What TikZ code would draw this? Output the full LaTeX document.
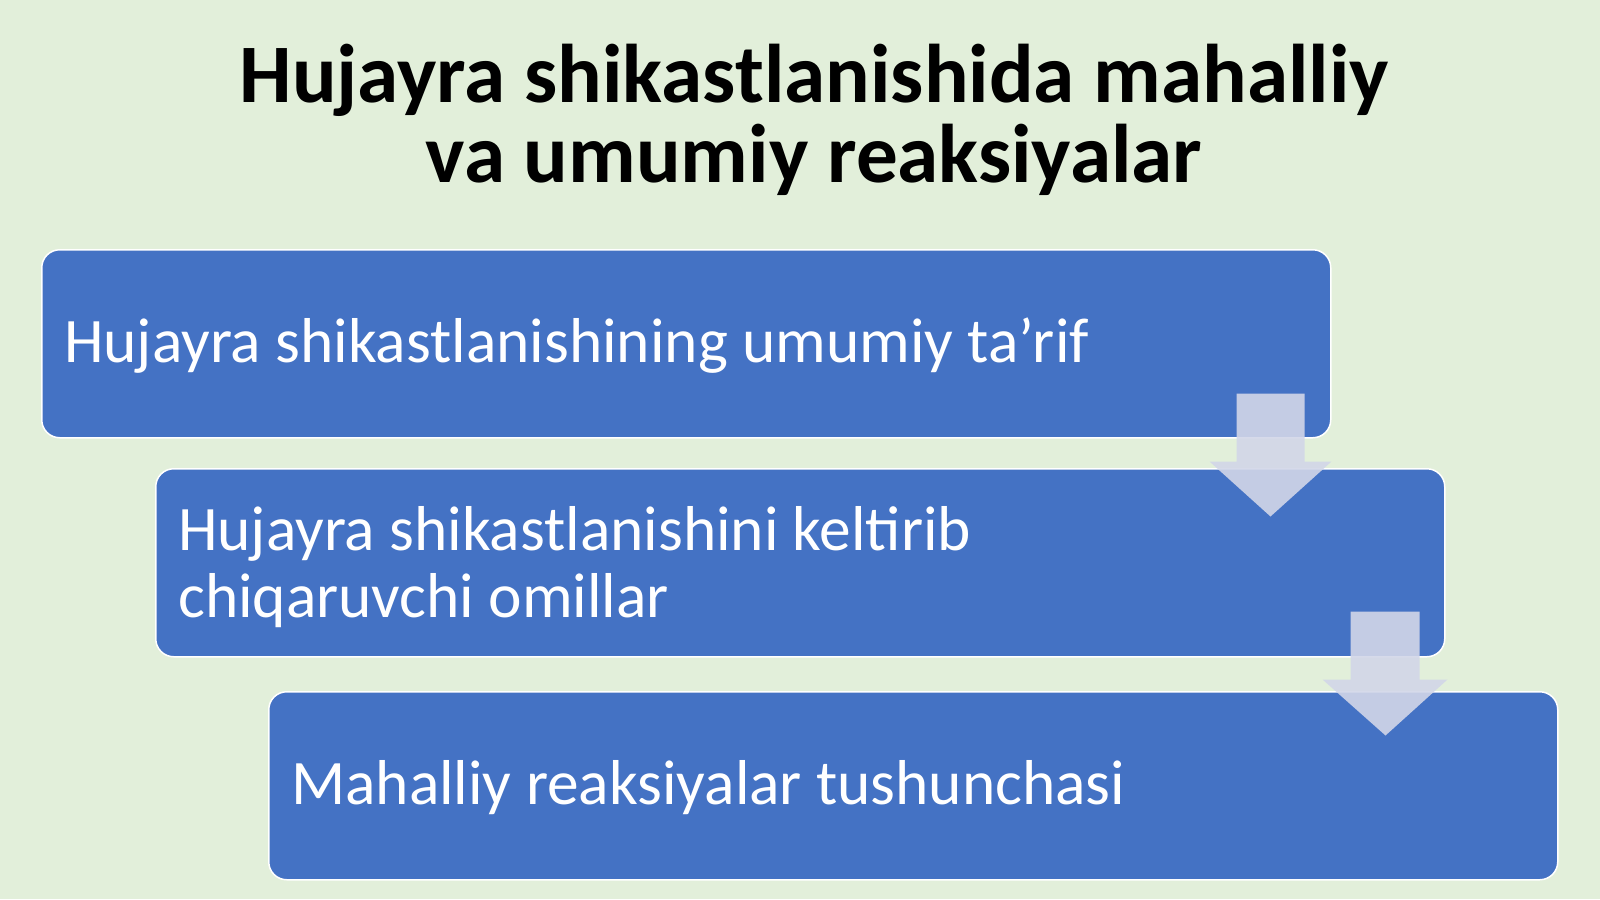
\documentclass[tikz,border=0pt]{standalone}
\usepackage{fontspec}
\setmainfont{Carlito}
\definecolor{bg}{HTML}{E2EFDA}
\definecolor{boxblue}{HTML}{4472C4}
\definecolor{arrowc}{RGB}{210,214,232}
\begin{document}
\begin{tikzpicture}[x=1pt,y=-1pt,
  stepbox/.style={draw=white, line width=1.5pt, fill=boxblue, rounded corners=18pt,
    minimum width=1289pt, minimum height=188pt, anchor=north west, inner sep=0pt},
  boxtext/.style={anchor=base west, text=white, font=\fontsize{63.4}{67}\selectfont, inner sep=0pt},
  titletext/.style={anchor=base, text=black, font=\bfseries\fontsize{83.2}{80}\selectfont, inner sep=0pt},
  blockarrow/.style={fill=arrowc, fill opacity=0.9, draw=none}]
\fill[bg] (0,0) rectangle (1600,899);
\useasboundingbox (0,0) rectangle (1600,899);
\node[titletext] (t1) at (814,102) {Hujayra shikastlanishida mahalliy};
\node[titletext] (t2) at (814,182) {va umumiy reaksiyalar};
\node[stepbox] (b1) at (41,249) {};
\node[stepbox] (b2) at (155,468) {};
\node[stepbox] (b3) at (268,691) {};
\node[boxtext] (l1) at ([xshift=23pt,yshift=-113pt]b1.north west) {Hujayra shikastlanishining umumiy ta’rif};
\node[boxtext] (l2a) at ([xshift=23pt,yshift=-82pt]b2.north west) {Hujayra shikastlanishini keltirib};
\node[boxtext] (l2b) at ([xshift=23pt,yshift=-149pt]b2.north west) {chiqaruvchi omillar};
\node[boxtext] (l3) at ([xshift=23pt,yshift=-113pt]b3.north west) {Mahalliy reaksiyalar tushunchasi};
\begin{scope}[shift={(b1.south east)}]
  \fill[blockarrow] (-95,-45) -- (-27,-45) -- (-27,23) -- (0,23) -- (-61,78) -- (-122,23) -- (-95,23) -- cycle;
\end{scope}
\begin{scope}[shift={(b2.south east)}]
  \fill[blockarrow] (-95,-46) -- (-26,-46) -- (-26,22) -- (2,22) -- (-60,78) -- (-123,22) -- (-95,22) -- cycle;
\end{scope}
\end{tikzpicture}
\end{document}
